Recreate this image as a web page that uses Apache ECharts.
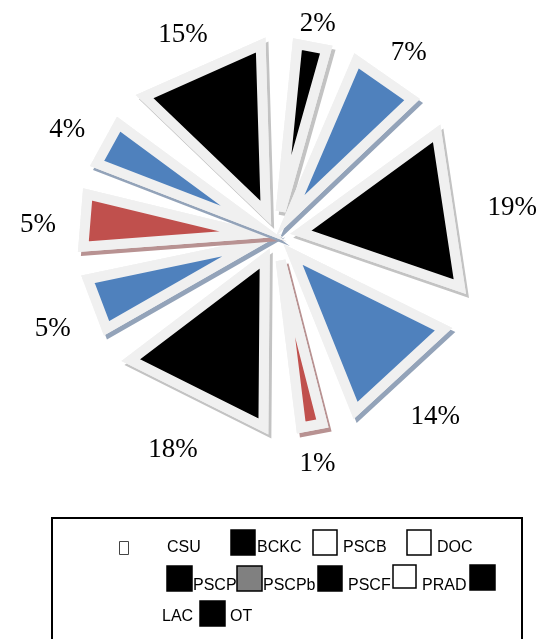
<!DOCTYPE html>
<html>
<head>
<meta charset="utf-8">
<title>pie</title>
<script src="https://cdn.jsdelivr.net/npm/echarts@6/dist/echarts.min.js"></script>
<style>
    html, body { margin: 0; padding: 0; background: #fff; }
    #chart { width: 543px; height: 639px; }
</style>
</head>
<body>
<div id="chart"></div>
<script>
// data, clockwise from the top
var categories = ['CSU', 'BCKC', 'PSCB', 'DOC', 'PSCP', 'PSCPb', 'PSCF', 'PRAD', 'LAC', 'OT'];
var shares = [2, 7, 19, 14, 1, 18, 5, 5, 4, 15];
var sliceColors = ['#000000', '#4f81bd', '#000000', '#4f81bd', '#c0504d', '#000000', '#4f81bd', '#c0504d', '#4f81bd', '#000000'];
var legendFills = ['#ffffff', '#000000', '#ffffff', '#ffffff', '#000000', '#808080', '#000000', '#ffffff', '#000000', '#000000'];

var PAD = 4.6;        // room reserved around each slice, in value units
var WIDEN = 0.89;     // each triangle is drawn this much wider on both sides
var EXPLODE = 0.15;   // explosion, in radius units
var LABEL_R = 1.12;   // label distance, in radius units

var total = 0;
var starts = [];
shares.forEach(function (v, i) {
    starts.push(total + PAD * (i + 0.5));
    total += v;
});
var axisMax = total + PAD * shares.length;

var shadowOf = {
    '#000000': '#c3c3c3',
    '#4f81bd': '#93a3b9',
    '#c0504d': '#b89292'
};

function renderSlice(params, api) {
    var v = api.value(0);
    var a0 = api.value(1);
    var mid = a0 + v / 2;
    var c = api.coord([0, mid]);
    var o = api.coord([EXPLODE, mid]);
    var dx = o[0] - c[0], dy = o[1] - c[1];
    var p1 = api.coord([1, a0 - WIDEN]);
    var p2 = api.coord([1, a0 + v + WIDEN]);
    var pts = [[o[0], o[1]], [p1[0] + dx, p1[1] + dy], [p2[0] + dx, p2[1] + dy]];
    var color = sliceColors[params.dataIndex];

    // label outside the slice, a bit further out on the sides
    var t = api.coord([LABEL_R, mid]);
    var len = Math.sqrt(dx * dx + dy * dy) || 1;
    var ux = dx / len, uy = dy / len;
    var extra = 25 * Math.abs(ux) + 6 * Math.abs(uy);

    return {
        type: 'group',
        children: [
            {
                type: 'polygon',
                shape: { points: pts },
                style: {
                    fill: '#f0f0f0', stroke: '#f0f0f0', lineWidth: 10, lineJoin: 'miter',
                    shadowColor: shadowOf[color], shadowBlur: 0, shadowOffsetX: 3, shadowOffsetY: 4
                }
            },
            {
                type: 'polygon',
                shape: { points: pts },
                style: { fill: color, stroke: '#f0f0f0', lineWidth: 10, lineJoin: 'miter' }
            },
            {
                type: 'text',
                x: t[0] + dx + ux * extra,
                y: t[1] + dy + uy * extra + 8,
                style: {
                    text: v + '%', fill: '#000',
                    fontSize: 27, fontFamily: 'Liberation Serif',
                    align: 'center', verticalAlign: 'middle'
                }
            }
        ]
    };
}

// legend box, drawn as it appears in the original: [boxX, boxY, boxW, boxH, textX, textY]
var legendLayout = [
    [119.5, 541.5, 9, 13, 167, 548],
    [231, 530, 24, 25, 257, 548],
    [313, 530, 24, 25, 343, 548],
    [407, 530, 24, 25, 437, 548],
    [167, 566, 25, 25, 193, 586],
    [237, 566, 25, 25, 263, 586],
    [318, 566, 24, 25, 348, 586],
    [393, 565, 23, 23, 422, 586],
    [470, 565, 25, 25, 162, 617],
    [200, 601, 25, 25, 230, 617]
];

function buildLegend() {
    var els = [{
        type: 'rect',
        shape: { x: 52, y: 518, width: 470, height: 130 },
        style: { fill: 'none', stroke: '#000', lineWidth: 2 }
    }];
    categories.forEach(function (name, i) {
        var l = legendLayout[i];
        els.push({
            type: 'rect',
            shape: { x: l[0], y: l[1], width: l[2], height: l[3] },
            style: { fill: legendFills[i], stroke: i === 0 ? '#444' : '#000', lineWidth: i === 0 ? 1 : 1.5 }
        });
        els.push({
            type: 'text',
            x: l[4], y: l[5],
            style: {
                text: name, fill: '#000', fontSize: 16, fontFamily: 'Liberation Sans',
                align: 'left', verticalAlign: 'middle'
            }
        });
    });
    return els;
}

var myChart = echarts.init(document.getElementById('chart'), null, { renderer: 'canvas' });
myChart.setOption({
    animation: false,
    backgroundColor: '#fff',
    polar: { center: [276, 236], radius: 168 },
    angleAxis: {
        type: 'value', min: 0, max: axisMax, startAngle: 88, clockwise: true,
        show: false, axisLine: { show: false }, splitLine: { show: false }
    },
    radiusAxis: {
        type: 'value', min: 0, max: 1,
        show: false, axisLine: { show: false }, splitLine: { show: false }
    },
    graphic: buildLegend(),
    series: [{
        type: 'custom',
        coordinateSystem: 'polar',
        data: shares.map(function (v, i) {
            return { name: categories[i], value: [v, starts[i]] };
        }),
        renderItem: renderSlice
    }]
});
</script>
</body>
</html>
